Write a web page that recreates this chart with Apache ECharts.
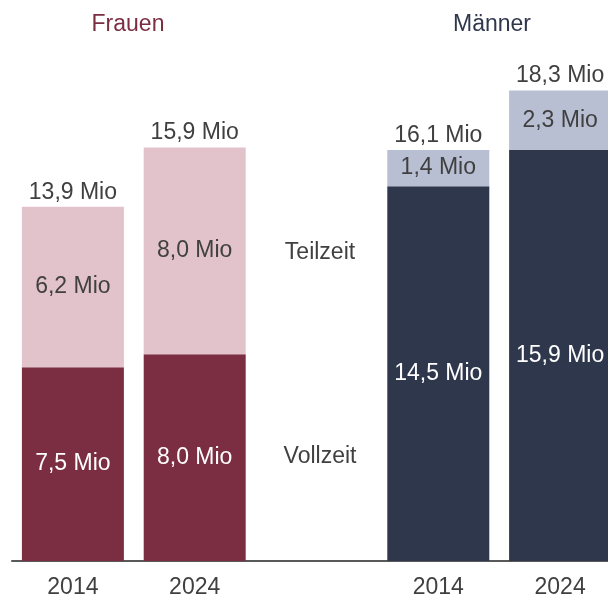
<!DOCTYPE html>
<html>
<head>
<meta charset="utf-8">
<script src="https://cdn.jsdelivr.net/npm/echarts@6/dist/echarts.min.js"></script>
<style>
  html, body { margin: 0; padding: 0; background: #fff; }
  #chart { width: 608px; height: 596px; }
</style>
</head>
<body>
<div id="chart"></div>
<script>
const years = ["2014", "2024", "", "2014", "2024"];
const vollzeit = [7.5, 8.0, null, 14.5, 15.9];
const teilzeit = [6.2, 8.0, null, 1.4, 2.3];
const gesamt = [13.9, 15.9, null, 16.1, 18.3];
// Frauen: index 0-1, Männer: index 3-4
const groups = ["f", "f", null, "m", "m"];

const colors = {
  f: { voll: "#7b2d42", teil: "#e3c3cb", title: "#7b2d42" },
  m: { voll: "#2f374d", teil: "#b8bfd2", title: "#2f374d" },
};

const fmt = (v) => v.toFixed(1).replace(".", ",") + " Mio";
const font = "'Liberation Sans', Arial, sans-serif";
const fs = 23;

const chart = echarts.init(document.getElementById("chart"));
chart.setOption({
  animation: false,
  textStyle: { fontFamily: font },
  grid: { left: 12, width: 609, top: 44, bottom: 35, outerBoundsMode: "none", containLabel: false },
  xAxis: {
    type: "category",
    data: years,
    axisLine: { lineStyle: { color: "#595959", width: 2 } },
    axisTick: { show: false },
    axisLabel: { color: "#404040", fontSize: fs, margin: 15, fontFamily: font },
  },
  yAxis: { type: "value", min: 0, max: 20, show: false, splitLine: { show: false } },
  graphic: [
    { type: "text", x: 128, y: 25, style: { text: "Frauen", fill: colors.f.title, font: fs + "px " + font, textAlign: "center", textVerticalAlign: "middle" } },
    { type: "text", x: 492, y: 25, style: { text: "Männer", fill: colors.m.title, font: fs + "px " + font, textAlign: "center", textVerticalAlign: "middle" } },
    { type: "text", x: 320, y: 253, style: { text: "Teilzeit", fill: "#404040", font: fs + "px " + font, textAlign: "center", textVerticalAlign: "middle" } },
    { type: "text", x: 320, y: 457, style: { text: "Vollzeit", fill: "#404040", font: fs + "px " + font, textAlign: "center", textVerticalAlign: "middle" } },
  ],
  series: [
    {
      name: "Vollzeit",
      type: "bar",
      stack: "total",
      barWidth: 102,
      data: vollzeit.map((v, i) => ({
        value: v,
        itemStyle: { color: groups[i] ? colors[groups[i]].voll : "transparent" },
      })),
      label: {
        show: true,
        position: "inside",
        color: "#ffffff",
        fontSize: fs,
        formatter: (p) => (p.value == null ? "" : fmt(p.value)),
      },
    },
    {
      name: "Teilzeit",
      type: "bar",
      stack: "total",
      barWidth: 102,
      data: teilzeit.map((v, i) => ({
        value: v,
        itemStyle: { color: groups[i] ? colors[groups[i]].teil : "transparent" },
      })),
      label: {
        show: true,
        position: "inside",
        color: "#404040",
        fontSize: fs,
        formatter: (p) => (p.value == null ? "" : fmt(p.value)),
      },
    },
    {
      name: "Gesamt",
      type: "bar",
      stack: "total",
      barWidth: 102,
      data: gesamt.map((v) => (v == null ? null : 0)),
      itemStyle: { color: "transparent" },
      label: {
        show: true,
        position: "top",
        distance: 3,
        color: "#404040",
        fontSize: fs,
        formatter: (p) => (gesamt[p.dataIndex] == null ? "" : fmt(gesamt[p.dataIndex])),
      },
    },
  ],
});
</script>
</body>
</html>
